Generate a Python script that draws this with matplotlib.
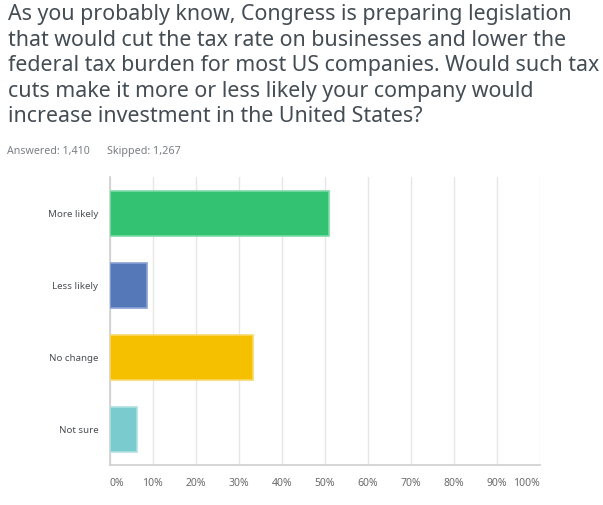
"""Survey result: likelihood of increased US investment after tax cuts."""

import matplotlib.pyplot as plt

W, H, DPI = 603, 506, 100

title_lines = [
    "As you probably know, Congress is preparing legislation",
    "that would cut the tax rate on businesses and lower the",
    "federal tax burden for most US companies. Would such tax",
    "cuts make it more or less likely your company would",
    "increase investment in the United States?",
]
answered = "Answered: 1,410"
skipped = "Skipped: 1,267"

categories = ["More likely", "Less likely", "No change", "Not sure"]
percents = [51.0, 8.6, 33.3, 6.5]
colors = ["#33c172", "#5578b8", "#f4c000", "#79cbce"]
edges = ["#7ddba6", "#8aa3d3", "#f8d868", "#aee0e2"]
xticks = [0, 10, 20, 30, 40, 50, 60, 70, 80, 90, 100]

plt.rcParams["font.family"] = ["Noto Sans", "DejaVu Sans"]

fig = plt.figure(figsize=(W / DPI, H / DPI), dpi=DPI)
ax = fig.add_axes([109.5 / W, 1 - 466 / H, (540 - 109.5) / W, (466 - 178) / H])

y = list(range(len(categories)))
ax.barh(y, percents, height=0.625, color=colors, edgecolor=edges, linewidth=1.2, zorder=3)

ax.set_xlim(0, 100)
ax.set_ylim(len(categories) - 0.5, -0.5)
ax.set_xticks(xticks)
ax.set_xticklabels([f"{v}%" for v in xticks], fontsize=7.5, color="#6b6b6b")
lbls = ax.get_xticklabels()
lbls[0].set_ha("left")
lbls[-1].set_ha("right")
ax.set_yticks(y)
ax.set_yticklabels(categories, fontsize=7, color="#4a4f55")
ax.tick_params(axis="x", length=0, pad=9)
ax.tick_params(axis="y", length=0, pad=8)
ax.grid(axis="x", color="#e6e6e6", linewidth=1, zorder=0)

for side in ["top", "right"]:
    ax.spines[side].set_visible(False)
for side in ["left", "bottom"]:
    ax.spines[side].set_color("#cfcfcf")
    ax.spines[side].set_linewidth(1.2)

# title drawn line by line to match the line pitch
for i, line in enumerate(title_lines):
    fig.text(8 / W, 1 - (20 + 25.5 * i) / H, line, ha="left", va="baseline",
             fontsize=15.4, color="#444c54")

# response counts: size the text so it spans the same width as the original
t_ans = fig.text(7 / W, 1 - 154 / H, answered, ha="left", va="baseline",
                 fontsize=8, color="#7a7f85")
t_skip = fig.text(107 / W, 1 - 154 / H, skipped, ha="left", va="baseline",
                  fontsize=8, color="#7a7f85")
renderer = fig.canvas.get_renderer()
for t, target in [(t_ans, 82), (t_skip, 74)]:
    wpx = t.get_window_extent(renderer).width
    t.set_fontsize(8 * target / wpx)

fig.savefig("out.png", dpi=DPI)
